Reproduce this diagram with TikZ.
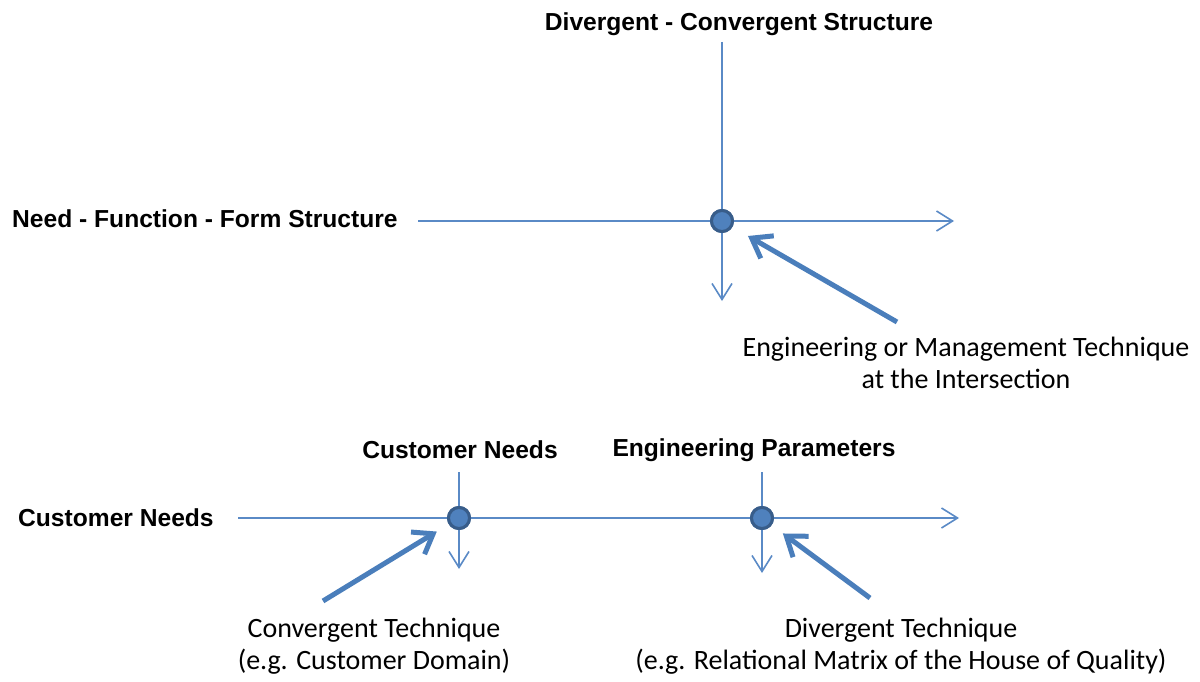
\documentclass[tikz,border=0pt]{standalone}
\usepackage{fontspec}
\newfontfamily\headfont{Liberation Sans}
\newfontfamily\notefont{Carlito}
\usetikzlibrary{arrows.meta, positioning}

\definecolor{axisblue}{HTML}{5A8AC6}
\definecolor{dotfill}{HTML}{4F81BD}
\definecolor{dotline}{HTML}{385D8A}
\definecolor{pointblue}{HTML}{4A7EBB}

\begin{document}
\begin{tikzpicture}[
    x=1pt, y=-1pt,
    axis/.style={
        draw=axisblue,
        line width=1.6pt,
        -{Straight Barb[length=16pt, width=20pt]}
    },
    junction/.style={
        circle,
        draw=dotline,
        fill=dotfill,
        line width=3pt,
        inner sep=0pt,
        minimum size=21pt
    },
    pointer/.style={
        draw=pointblue,
        line width=5pt,
        -{Straight Barb[length=18pt, width=26pt]}
    },
    structure/.style={
        font=\headfont\bfseries\fontsize{24.6}{28}\selectfont,
        inner sep=0pt
    },
    note/.style={
        font=\notefont\fontsize{28}{32}\selectfont,
        align=center,
        inner sep=0pt
    }
]
\useasboundingbox (0,0) rectangle (1200,682);

% upper picture
\node[structure] (dc_title) at (739,24) {Divergent - Convergent Structure};
\node[structure, anchor=west] (nff_label) at (12,219) {Need - Function - Form Structure};
\node[junction] (top_dot) at (722,221) {};
\coordinate (top_start) at (722,42);
\coordinate (top_end) at (722,301);
\coordinate (nff_start) at (418,221);
\coordinate (nff_end) at (954,221);
\node[note] (top_note) at (966,363) {Engineering or Management Technique\\at the Intersection};
\coordinate (top_tail) at (897,322);

\draw[axis] (top_start) -- (top_end);
\draw[axis] (nff_start) -- (nff_end);
\node[junction] at (top_dot) {};
\draw[pointer, shorten >=30pt] (top_tail) -- (top_dot.center);

% lower picture
\node[structure, anchor=west] (cn_label) at (18,518) {Customer Needs};
\node[structure] (cn_title) at (460,450) {Customer Needs};
\node[structure] (ep_title) at (754,450) {Engineering Parameters};
\node[junction] (cn_dot) at (459,518) {};
\node[junction] (ep_dot) at (762,518) {};
\coordinate (cn_start) at (238,518);
\coordinate (cn_end) at (959,518);
\coordinate (cn_top) at (459,472);
\coordinate (cn_bottom) at (459,569);
\coordinate (ep_top) at (762,472);
\coordinate (ep_bottom) at (762,573);
\node[note] (conv_note) at (374,646) {Convergent Technique\\(e.g. Customer Domain)};
\node[note] (div_note) at (901,646) {Divergent Technique\\(e.g. Relational Matrix of the House of Quality)};
\coordinate (conv_tail) at (323,601);
\coordinate (div_tail) at (870,598);

\draw[axis] (cn_start) -- (cn_end);
\draw[axis] (cn_top) -- (cn_bottom);
\draw[axis] (ep_top) -- (ep_bottom);
\node[junction] at (cn_dot) {};
\node[junction] at (ep_dot) {};
\draw[pointer, shorten >=26pt] (conv_tail) -- (cn_dot.center);
\draw[pointer, shorten >=26pt] (div_tail) -- (ep_dot.center);

\end{tikzpicture}
\end{document}
